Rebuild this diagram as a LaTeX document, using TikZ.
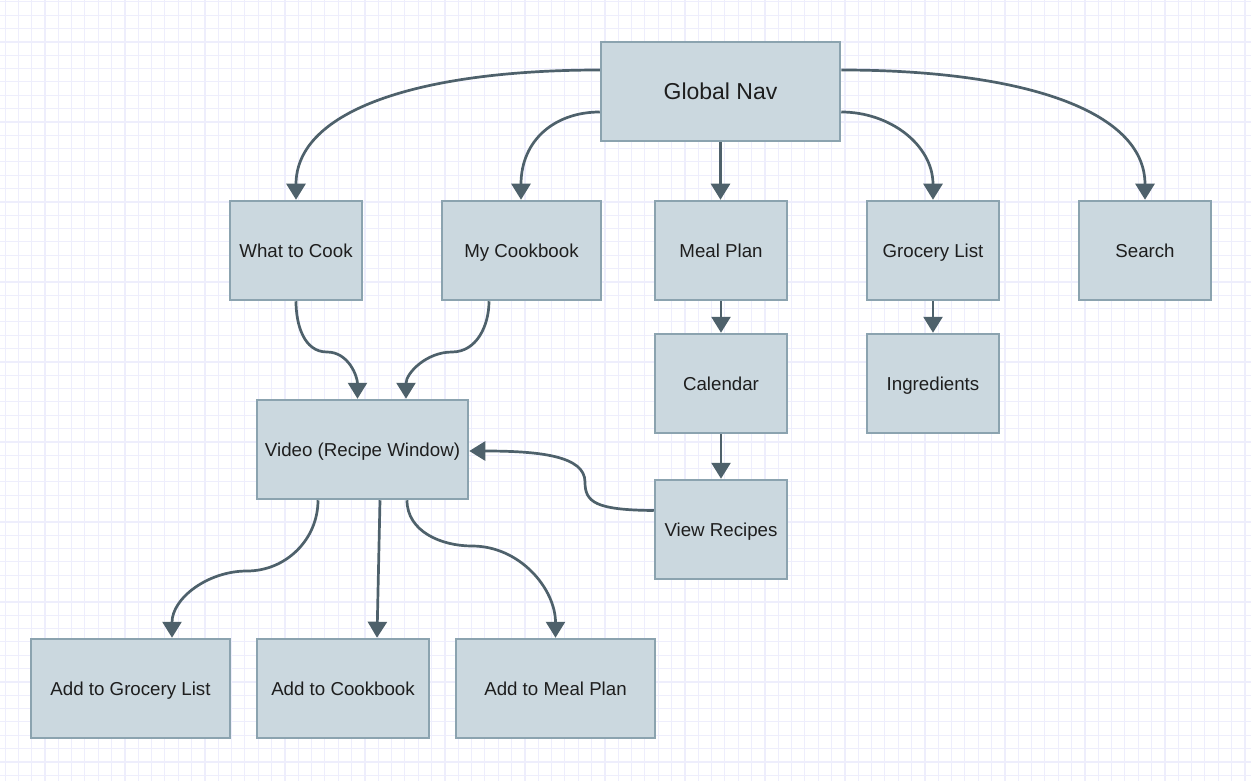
\documentclass[tikz,border=0pt]{standalone}
\usepackage{fontspec}
\setmainfont{Liberation Sans}
\usetikzlibrary{arrows.meta}
\definecolor{gridc}{HTML}{EEEEFC}
\definecolor{boxfill}{HTML}{CBD8DF}
\definecolor{boxline}{HTML}{8BA3AF}
\definecolor{edgec}{HTML}{4E616B}
\definecolor{txt}{HTML}{1E1E1E}
\tikzset{
  box/.style={draw=boxline, fill=boxfill, line width=2.5pt, text=txt,
    font=\fontsize{18.7}{22}\selectfont, inner sep=0pt, anchor=center,
    text height=13.4pt, text depth=0pt},
  arr/.style={draw=edgec, line width=2.7pt, -{Triangle[width=19pt,length=16pt]}},
}
\begin{document}
\begin{tikzpicture}[x=1pt,y=-1pt]
\useasboundingbox (0,0) rectangle (1251,781);
\fill[white] (0,0) rectangle (1251,781);
% grid
\foreach \i in {0,...,93} {
  \pgfmathsetmacro{\xx}{5+13.333*\i}
  \pgfmathsetmacro{\lw}{mod(\i,2)==0 ? 1.0 : 1.6}
  \draw[gridc, line width=\lw pt] (\xx,0) -- (\xx,781);
}
\foreach \i in {0,...,58} {
  \pgfmathsetmacro{\yy}{2+13.333*\i}
  \pgfmathsetmacro{\lw}{mod(\i,2)==0 ? 1.0 : 1.6}
  \draw[gridc, line width=\lw pt] (0,\yy) -- (1251,\yy);
}
% nodes
\node[box, minimum width=239pt, minimum height=99pt, font=\fontsize{23}{27}\selectfont, text height=16.5pt] (gn) at (720.5,91.5) {Global Nav};
\node[box, minimum width=132pt, minimum height=99pt] (wtc) at (296,250.5) {What to Cook};
\node[box, minimum width=159pt, minimum height=99pt] (mcb) at (521.5,250.5) {My Cookbook};
\node[box, minimum width=132pt, minimum height=99pt] (mp) at (721,250.5) {Meal Plan};
\node[box, minimum width=132pt, minimum height=99pt] (gl) at (933,250.5) {Grocery List};
\node[box, minimum width=132pt, minimum height=99pt] (se) at (1145,250.5) {Search};
\node[box, minimum width=132pt, minimum height=99pt] (cal) at (721,383.5) {Calendar};
\node[box, minimum width=132pt, minimum height=99pt] (ing) at (933,383.5) {Ingredients};
\node[box, minimum width=211pt, minimum height=99pt] (vid) at (362.5,449.5) {Video (Recipe Window)};
\node[box, minimum width=132pt, minimum height=99pt] (vr) at (721,529.5) {View Recipes};
\node[box, minimum width=199pt, minimum height=99pt] (agl) at (130.5,688.5) {Add to Grocery List};
\node[box, minimum width=172pt, minimum height=99pt] (acb) at (343,688.5) {Add to Cookbook};
\node[box, minimum width=199pt, minimum height=99pt] (amp) at (555.5,688.5) {Add to Meal Plan};
% edges from Global Nav
\draw[arr] ([yshift=21.5pt]gn.west) .. controls (420,70) and (296,110) .. (wtc.north);
\draw[arr] ([yshift=-20.5pt]gn.west) .. controls (555,112) and (521,140) .. ([xshift=-0.5pt]mcb.north);
\draw[arr] (gn.south) -- (gn.south |- mp.north);
\draw[arr] ([yshift=-20.5pt]gn.east) .. controls (890,112) and (933,145) .. (gl.north);
\draw[arr] ([yshift=21.5pt]gn.east) .. controls (1021,70) and (1145,110) .. (se.north);
% vertical chains
\draw[arr] (mp.south) -- (cal.north);
\draw[arr] (cal.south) -- (vr.north);
\draw[arr] (gl.south) -- (ing.north);
% into video
\draw[arr] (wtc.south) to[out=-90,in=180] (327,352) to[out=0,in=90] ([xshift=-5pt]vid.north);
\draw[arr] ([xshift=-32.5pt]mcb.south) to[out=-90,in=0] (452,352) to[out=180,in=90] ([xshift=43.5pt]vid.north);
\draw[arr] ([yshift=19pt]vr.west) .. controls (595,510) and (585,502) .. (585,482)
  .. controls (585,456) and (540,451) .. ([yshift=-1.5pt]vid.east);
% out of video
\draw[arr] ([xshift=-44.5pt]vid.south) to[out=-90,in=0] (247,571) to[out=180,in=90] ([xshift=41.5pt]agl.north);
\draw[arr] ([xshift=17.5pt]vid.south) -- ([xshift=34pt]acb.north);
\draw[arr] ([xshift=44.5pt]vid.south) to[out=-90,in=180] (472,546) to[out=0,in=90] (amp.north);
\end{tikzpicture}
\end{document}
